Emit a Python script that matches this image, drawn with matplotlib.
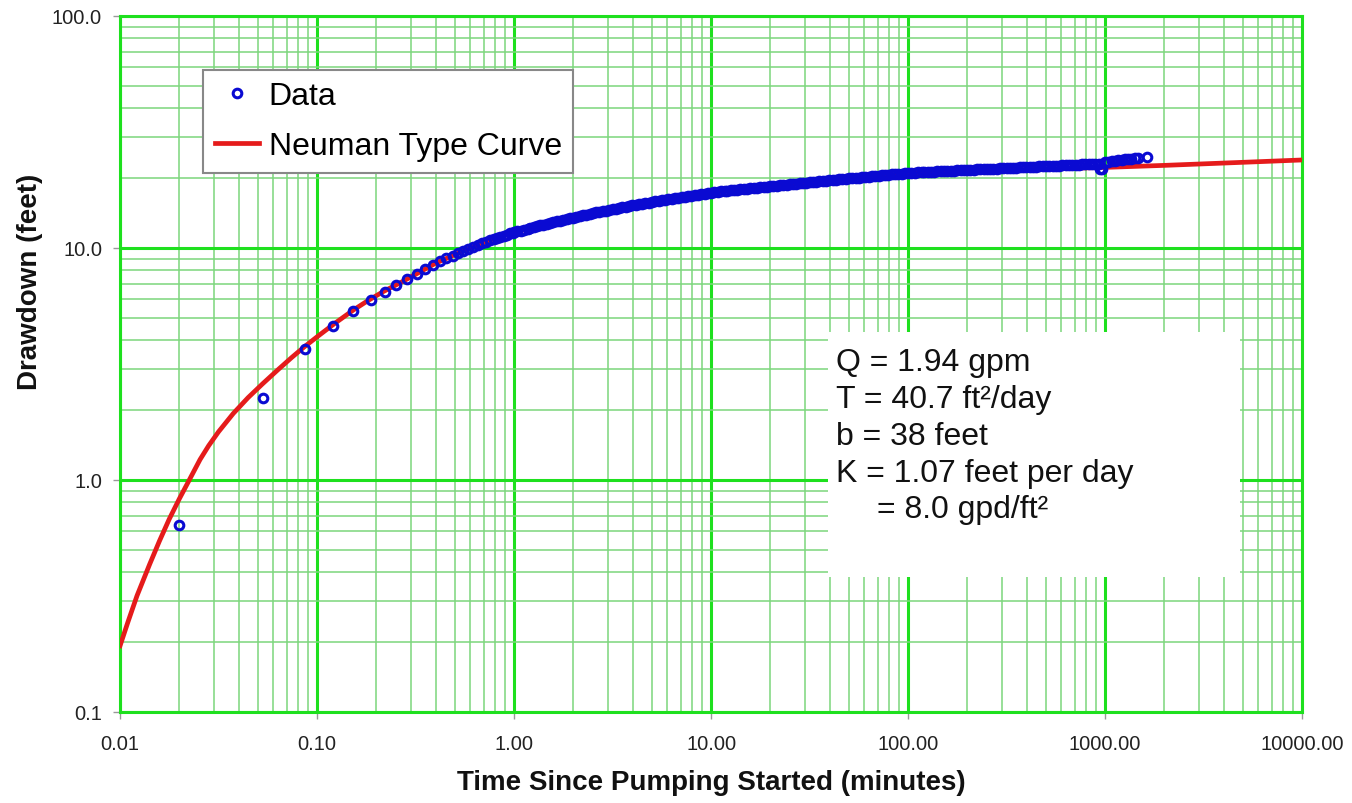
import matplotlib
matplotlib.use("Agg")
import matplotlib.pyplot as plt
from matplotlib.patches import Rectangle
from matplotlib.ticker import LogLocator, NullFormatter

plt.rcParams['font.family'] = ['Liberation Sans', 'DejaVu Sans']

# measured drawdown, early readings (every 2 s)
early_t = [0.020, 0.053, 0.087, 0.120, 0.153, 0.187, 0.220, 0.253, 0.287, 0.320,
           0.353, 0.387, 0.420, 0.453, 0.487, 0.520, 0.553, 0.587, 0.620, 0.653,
           0.687, 0.720, 0.753, 0.787, 0.820, 0.853, 0.887, 0.920, 0.953, 0.987]
early_s = [0.64, 2.25, 3.68, 4.62, 5.34, 5.99, 6.48, 6.95, 7.35, 7.75,
           8.09, 8.45, 8.76, 9.03, 9.26, 9.49, 9.71, 9.93, 10.13, 10.31,
           10.48, 10.63, 10.78, 10.92, 11.06, 11.19, 11.31, 11.43, 11.55, 11.65]

# measured drawdown, later readings
late_t = [1.00, 1.04, 1.08, 1.12, 1.17, 1.21, 1.26, 1.31, 1.36, 1.41,
          1.47, 1.53, 1.58, 1.65, 1.71, 1.78, 1.85, 1.92, 2.00, 2.07,
          2.15, 2.24, 2.33, 2.42, 2.51, 2.61, 2.71, 2.82, 2.93, 3.04,
          3.16, 3.29, 3.41, 3.55, 3.69, 3.83, 3.98, 4.14, 4.30, 4.47,
          4.64, 4.82, 5.01, 5.21, 5.41, 5.62, 5.84, 6.07, 6.31, 6.56,
          6.81, 7.08, 7.36, 7.64, 7.94, 8.25, 8.58, 8.91, 9.26, 9.62,
          10.0, 10.4, 10.8, 11.2, 11.7, 12.1, 12.6, 13.1, 13.6, 14.1,
          14.7, 15.3, 15.8, 16.5, 17.1, 17.8, 18.5, 19.2, 20.0, 20.7,
          21.5, 22.4, 23.3, 24.2, 25.1, 26.1, 27.1, 28.2, 29.3, 30.4,
          31.6, 32.9, 34.1, 35.5, 36.9, 38.3, 39.8, 41.4, 43.0, 44.7,
          46.4, 48.2, 50.1, 52.1, 54.1, 56.2, 58.4, 60.7, 63.1, 65.6,
          68.1, 70.8, 73.6, 76.4, 79.4, 82.5, 85.8, 89.1, 92.6, 96.2,
          100, 104, 108, 112, 117, 121, 126, 131, 136, 141,
          147, 153, 158, 165, 171, 178, 185, 192, 200, 207,
          215, 224, 233, 242, 251, 261, 271, 282, 293, 304,
          316, 329, 341, 355, 369, 383, 398, 414, 430, 447,
          464, 482, 501, 521, 541, 562, 584, 607, 631, 656,
          681, 708, 736, 764, 794, 825, 858, 891, 926, 944,
          962, 1000, 1039, 1080, 1122, 1166, 1212, 1259, 1308, 1359,
          1413, 1468, 1628]
late_s = [11.68, 11.79, 11.89, 12.00, 12.10, 12.21, 12.31, 12.42, 12.52, 12.62,
          12.73, 12.83, 12.93, 13.03, 13.13, 13.23, 13.33, 13.43, 13.53, 13.63,
          13.73, 13.83, 13.93, 14.02, 14.12, 14.22, 14.31, 14.41, 14.50, 14.60,
          14.69, 14.79, 14.88, 14.97, 15.07, 15.16, 15.25, 15.34, 15.43, 15.52,
          15.61, 15.70, 15.79, 15.88, 15.97, 16.06, 16.15, 16.23, 16.32, 16.41,
          16.49, 16.58, 16.66, 16.75, 16.83, 16.92, 17.00, 17.08, 17.17, 17.25,
          17.33, 17.39, 17.45, 17.52, 17.58, 17.64, 17.70, 17.76, 17.83, 17.89,
          17.95, 18.01, 18.07, 18.14, 18.20, 18.26, 18.32, 18.38, 18.45, 18.51,
          18.57, 18.63, 18.69, 18.76, 18.82, 18.88, 18.94, 19.00, 19.07, 19.13,
          19.19, 19.25, 19.31, 19.38, 19.44, 19.50, 19.56, 19.62, 19.69, 19.75,
          19.81, 19.87, 19.93, 20.00, 20.06, 20.12, 20.18, 20.24, 20.31, 20.37,
          20.43, 20.49, 20.55, 20.62, 20.68, 20.74, 20.80, 20.86, 20.93, 20.99,
          21.05, 21.09, 21.12, 21.16, 21.19, 21.23, 21.26, 21.30, 21.33, 21.37,
          21.40, 21.44, 21.47, 21.51, 21.54, 21.58, 21.61, 21.65, 21.68, 21.72,
          21.75, 21.79, 21.82, 21.86, 21.89, 21.93, 21.96, 22.00, 22.03, 22.07,
          22.10, 22.14, 22.17, 22.21, 22.24, 22.28, 22.31, 22.35, 22.38, 22.42,
          22.45, 22.49, 22.52, 22.56, 22.59, 22.63, 22.66, 22.70, 22.73, 22.77,
          22.80, 22.84, 22.87, 22.91, 22.94, 22.98, 23.01, 23.05, 23.08, 22.00,
          21.90, 23.40, 23.55, 23.68, 23.80, 23.92, 24.02, 24.10, 24.17, 24.24,
          24.32, 24.40, 24.60]

# fitted Neuman type curve
curve_t = [0.01, 0.01096, 0.01219, 0.01413, 0.01585, 0.01778, 0.0200, 0.02239, 0.02547, 0.02818,
           0.03162, 0.03758, 0.04467, 0.05297, 0.0631, 0.07413, 0.0859, 0.1, 0.123, 0.1531,
           0.182, 0.2168, 0.27, 0.33, 0.4, 0.5, 0.62, 0.75, 0.9, 1.0,
           1.5, 2.0, 3.0, 5.0, 7.0, 10.0, 20.0, 50.0, 100.0, 200.0,
           500.0, 1000.0, 2000.0, 5000.0, 10000.0]
curve_s = [0.193, 0.244, 0.317, 0.433, 0.546, 0.679, 0.830, 0.995, 1.225, 1.406,
           1.614, 1.936, 2.265, 2.600, 2.979, 3.365, 3.741, 4.140, 4.732, 5.408,
           5.943, 6.486, 7.15, 7.85, 8.6, 9.35, 10.1, 10.8, 11.35, 11.68,
           12.8, 13.5, 14.5, 15.8, 16.5, 17.3, 18.4, 19.9, 20.9, 21.4,
           21.9, 22.25, 22.7, 23.4, 23.95]

x_ticks = [0.01, 0.1, 1, 10, 100, 1000, 10000]
x_tick_labels = ['0.01', '0.10', '1.00', '10.00', '100.00', '1000.00', '10000.00']
y_ticks = [0.1, 1, 10, 100]
y_tick_labels = ['0.1', '1.0', '10.0', '100.0']

info_lines = ['Q = 1.94 gpm', 'T = 40.7 ft\u00b2/day', 'b = 38 feet',
              'K = 1.07 feet per day', '= 8.0 gpd/ft\u00b2']

major_green = '#1ee01e'
minor_green = '#7cd67c'
blue = '#0a0ad2'
red = '#e51b1b'

fig = plt.figure(figsize=(13.52, 8.04), dpi=100)
ax = fig.add_axes([0.0888, 0.1132, 0.8743, 0.8657])
ax.set_xscale('log')
ax.set_yscale('log')
ax.set_xlim(0.01, 10000)
ax.set_ylim(0.1, 100)

ax.xaxis.set_minor_locator(LogLocator(base=10, subs=range(2, 10), numticks=20))
ax.yaxis.set_minor_locator(LogLocator(base=10, subs=range(2, 10), numticks=20))
ax.xaxis.set_minor_formatter(NullFormatter())
ax.yaxis.set_minor_formatter(NullFormatter())
ax.set_xticks(x_ticks)
ax.set_xticklabels(x_tick_labels)
ax.set_yticks(y_ticks)
ax.set_yticklabels(y_tick_labels)

ax.set_axisbelow(True)
ax.grid(which='minor', color=minor_green, lw=1.1)
ax.grid(which='major', color=major_green, lw=2.2)
for sp in ax.spines.values():
    sp.set_color(major_green)
    sp.set_linewidth(2.2)
ax.tick_params(which='major', length=5, width=1, color='#999999',
               labelsize=14.5, labelcolor='#222222')
ax.tick_params(axis='x', which='major', pad=11)
ax.tick_params(axis='y', which='major', pad=8)
ax.tick_params(which='minor', length=0)

h_curve, = ax.plot(curve_t, curve_s, color=red, lw=3.4, zorder=3,
                   label='Neuman Type Curve')
h_data, = ax.plot(early_t + late_t, early_s + late_s, 'o', ms=6.2, mfc='none',
                  mec=blue, mew=2.2, zorder=4, label='Data')

leg = ax.legend(handles=[h_data, h_curve], loc='upper left',
                bbox_to_anchor=(0.0702, 0.9224), borderaxespad=0, fontsize=23,
                fancybox=False, edgecolor='#888888', framealpha=1,
                handlelength=1.4, handletextpad=0.3, labelspacing=0.62,
                borderpad=0.36)
leg.get_frame().set_linewidth(1.5)
leg.set_zorder(6)

# white panel with the aquifer parameters
ax.add_patch(Rectangle((0.599, 0.194), 0.3485, 0.352, transform=ax.transAxes,
                       facecolor='white', edgecolor='none', zorder=2.5))
line_y = [0.4914, 0.4382, 0.385, 0.3319, 0.2802]
line_x = [0.6058, 0.6058, 0.6058, 0.6058, 0.6404]
for txt, lx, ly in zip(info_lines, line_x, line_y):
    ax.text(lx, ly, txt, transform=ax.transAxes, fontsize=23, va='baseline',
            ha='left', color='#111111', zorder=5)

ax.set_xlabel('Time Since Pumping Started (minutes)', fontsize=20,
              fontweight='bold', color='#111111')
ax.xaxis.set_label_coords(0.5, -0.082)
ax.set_ylabel('Drawdown (feet)', fontsize=20, fontweight='bold', color='#111111')
ax.yaxis.set_label_coords(-0.065, 0.62)

fig.savefig('out.png', dpi=100)
